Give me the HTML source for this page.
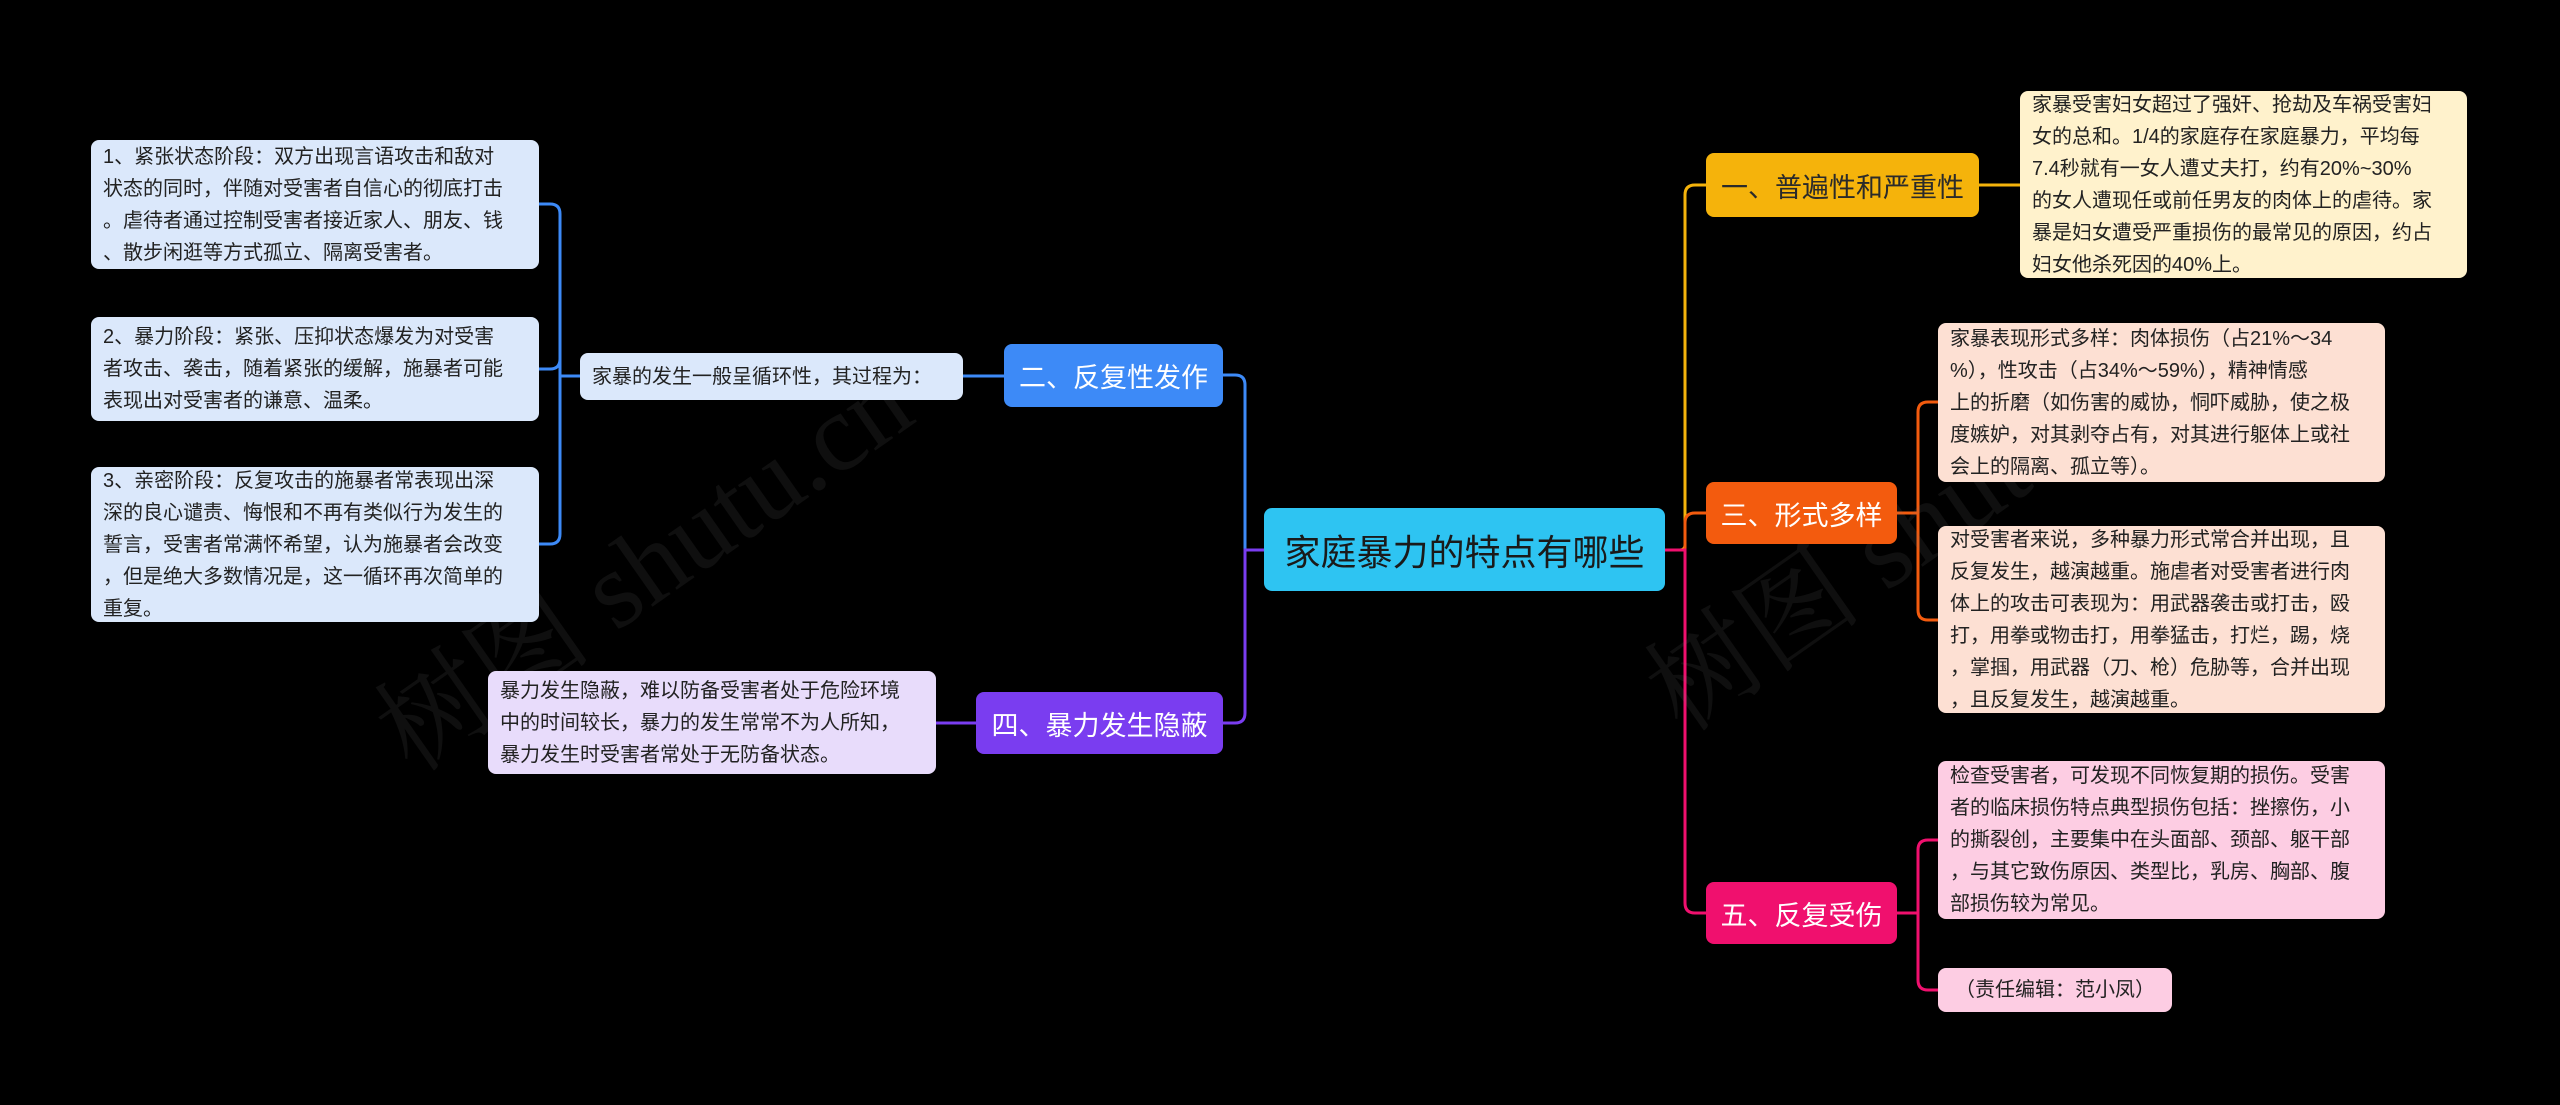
<!DOCTYPE html>
<html><head><meta charset="utf-8"><style>
html,body{margin:0;padding:0;background:#000;}
body{width:2560px;height:1105px;position:relative;overflow:hidden;font-family:"Liberation Sans","Noto Sans CJK SC",sans-serif;}
.n{position:absolute;box-sizing:border-box;border-radius:8px;display:flex;align-items:center;}
.leaf{font-size:20px;line-height:32px;color:#222;padding:0 12px;white-space:nowrap;}
.br{font-size:27px;color:#fff;justify-content:center;white-space:nowrap;}
.wm{position:absolute;font-family:"Liberation Serif","Noto Serif CJK SC",serif;font-size:110px;color:rgba(120,120,120,0.12);transform:rotate(-35deg);white-space:nowrap;}
</style></head><body>
<svg width="2560" height="1105" style="position:absolute;left:0;top:0" fill="none" stroke-width="3">
<path d="M1665 550 H1680 Q1685 550 1685 545 V195 Q1685 185 1695 185 H1706" stroke="#f5b30b"/>
<path d="M1665 550 H1685 V523 Q1685 513 1695 513 H1706" stroke="#f35b0e"/>
<path d="M1665 550 H1685 V903 Q1685 913 1695 913 H1706" stroke="#f0106e"/>
<path d="M1264 550 H1245 V385 Q1245 375 1235 375 H1223" stroke="#3d8af7"/>
<path d="M1264 550 H1245 V713 Q1245 723 1235 723 H1223" stroke="#7a3df0"/>
<path d="M1004 376 H963" stroke="#3d8af7"/>
<path d="M580 376 H560 V214 Q560 204 550 204 H539 M560 376 V359 Q560 369 550 369 H539 M560 376 V534 Q560 544 550 544 H539" stroke="#3d8af7"/>
<path d="M976 723 H936" stroke="#7a3df0"/>
<path d="M1979 185 H2020" stroke="#f5b30b"/>
<path d="M1897 513 H1918 V412 Q1918 402 1928 402 H1938 M1918 513 V610 Q1918 620 1928 620 H1938" stroke="#f35b0e"/>
<path d="M1897 913 H1918 V850 Q1918 840 1928 840 H1938 M1918 913 V980 Q1918 990 1928 990 H1938" stroke="#f0106e"/>
</svg>
<div class="wm" style="left:330px;top:480px;">树图 shutu.cn</div>
<div class="wm" style="left:1600px;top:440px;">树图 shutu.cn</div>

<div class="n br" style="left:1264px;top:508px;width:401px;height:83px;background:#2ec4f2;color:#1a1a1a;font-size:36px;">家庭暴力的特点有哪些</div>

<div class="n br" style="left:1706px;top:153px;width:273px;height:64px;background:#f5b30b;color:#2a2a2a;">一、普遍性和严重性</div>
<div class="n br" style="left:1706px;top:482px;width:191px;height:62px;background:#f35b0e;">三、形式多样</div>
<div class="n br" style="left:1706px;top:882px;width:191px;height:62px;background:#f0106e;">五、反复受伤</div>
<div class="n br" style="left:1004px;top:344px;width:219px;height:63px;background:#3d8af7;">二、反复性发作</div>
<div class="n br" style="left:976px;top:692px;width:247px;height:62px;background:#7a3df0;">四、暴力发生隐蔽</div>

<div class="n leaf" style="left:2020px;top:91px;width:447px;height:187px;background:#fff2cc;">家暴受害妇女超过了强奸、抢劫及车祸受害妇<br>女的总和。1/4的家庭存在家庭暴力，平均每<br>7.4秒就有一女人遭丈夫打，约有20%~30%<br>的女人遭现任或前任男友的肉体上的虐待。家<br>暴是妇女遭受严重损伤的最常见的原因，约占<br>妇女他杀死因的40%上。</div>
<div class="n leaf" style="left:1938px;top:323px;width:447px;height:159px;background:#fde0d3;">家暴表现形式多样：肉体损伤（占21%～34<br>%），性攻击（占34%～59%），精神情感<br>上的折磨（如伤害的威协，恫吓威胁，使之极<br>度嫉妒，对其剥夺占有，对其进行躯体上或社<br>会上的隔离、孤立等）。</div>
<div class="n leaf" style="left:1938px;top:526px;width:447px;height:187px;background:#fde0d3;">对受害者来说，多种暴力形式常合并出现，且<br>反复发生，越演越重。施虐者对受害者进行肉<br>体上的攻击可表现为：用武器袭击或打击，殴<br>打，用拳或物击打，用拳猛击，打烂，踢，烧<br>，掌掴，用武器（刀、枪）危胁等，合并出现<br>，且反复发生，越演越重。</div>
<div class="n leaf" style="left:1938px;top:761px;width:447px;height:158px;background:#fdcde3;">检查受害者，可发现不同恢复期的损伤。受害<br>者的临床损伤特点典型损伤包括：挫擦伤，小<br>的撕裂创，主要集中在头面部、颈部、躯干部<br>，与其它致伤原因、类型比，乳房、胸部、腹<br>部损伤较为常见。</div>
<div class="n leaf" style="left:1938px;top:968px;width:234px;height:44px;background:#fdcde3;justify-content:center;">（责任编辑：范小凤）</div>

<div class="n leaf" style="left:580px;top:353px;width:383px;height:47px;background:#dbe8fb;">家暴的发生一般呈循环性，其过程为：</div>
<div class="n leaf" style="left:91px;top:140px;width:448px;height:129px;background:#dbe8fb;">1、紧张状态阶段：双方出现言语攻击和敌对<br>状态的同时，伴随对受害者自信心的彻底打击<br>。虐待者通过控制受害者接近家人、朋友、钱<br>、散步闲逛等方式孤立、隔离受害者。</div>
<div class="n leaf" style="left:91px;top:317px;width:448px;height:104px;background:#dbe8fb;">2、暴力阶段：紧张、压抑状态爆发为对受害<br>者攻击、袭击，随着紧张的缓解，施暴者可能<br>表现出对受害者的谦意、温柔。</div>
<div class="n leaf" style="left:91px;top:467px;width:448px;height:155px;background:#dbe8fb;">3、亲密阶段：反复攻击的施暴者常表现出深<br>深的良心谴责、悔恨和不再有类似行为发生的<br>誓言，受害者常满怀希望，认为施暴者会改变<br>，但是绝大多数情况是，这一循环再次简单的<br>重复。</div>
<div class="n leaf" style="left:488px;top:671px;width:448px;height:103px;background:#e8dcfb;">暴力发生隐蔽，难以防备受害者处于危险环境<br>中的时间较长，暴力的发生常常不为人所知，<br>暴力发生时受害者常处于无防备状态。</div>
</body></html>
